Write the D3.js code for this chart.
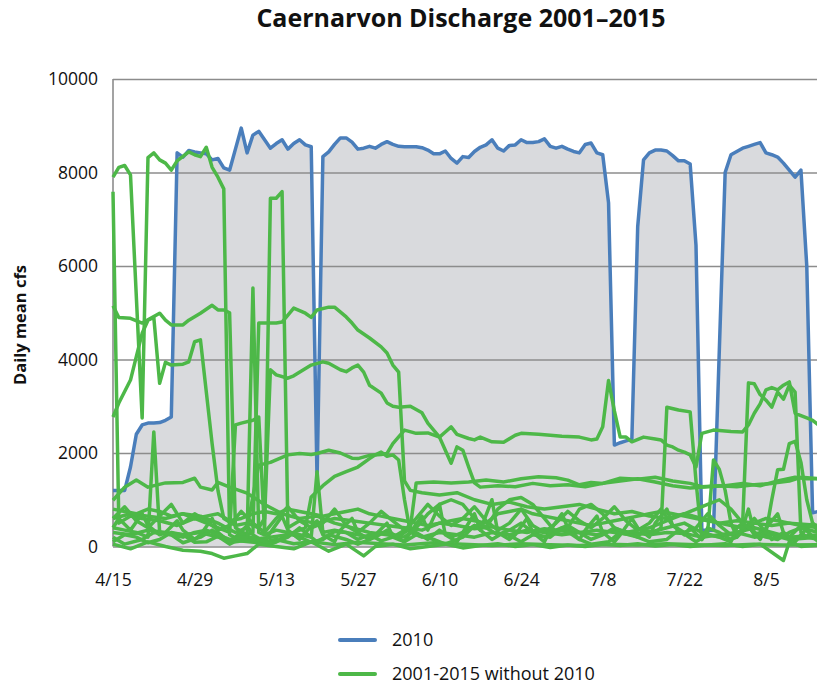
<!DOCTYPE html>
<html>
<head>
<meta charset="utf-8">
<script src="https://cdn.jsdelivr.net/npm/d3@7"></script>
<style>
  body { margin: 0; background: #fff; }
  text { font-family: "Open Sans", "Noto Sans", sans-serif; fill: #111; }
</style>
</head>
<body>
<div id="chart"></div>
<script>
// tick labels on the date axis (every 14 days from 4/15)
var xTickDays = [0, 14, 28, 42, 56, 70, 84, 98, 112];
var xTickLabels = ["4/15", "4/29", "5/13", "5/27", "6/10", "6/24", "7/8", "7/22", "8/5"];
var yTicks = [0, 2000, 4000, 6000, 8000, 10000];

// 2010 daily mean discharge (cfs), one value per day from 4/15
var flow2010 = [1200, 1200, 1200, 1700, 2400, 2600, 2640, 2640, 2650, 2700,
  2770, 8420, 8330, 8470, 8440, 8420, 8400, 8270, 8300, 8100,
  8050, 8500, 8950, 8420, 8800, 8880, 8700, 8520, 8620, 8700,
  8500, 8620, 8700, 8590, 8550, 1420, 8340, 8440, 8600, 8740,
  8740, 8650, 8500, 8520, 8560, 8520, 8600, 8660, 8600, 8560,
  8550, 8550, 8550, 8530, 8480, 8400, 8400, 8460, 8300, 8200,
  8340, 8320, 8450, 8540, 8590, 8700, 8520, 8460, 8580, 8590,
  8700, 8640, 8640, 8660, 8720, 8560, 8520, 8560, 8500, 8450,
  8420, 8600, 8630, 8420, 8380, 7350, 2170, 2220, 2260, 2300,
  6840, 8270, 8420, 8480, 8480, 8460, 8360, 8250, 8250, 8180,
  6440, 350, 350, 350, 4200, 8000, 8380, 8450, 8520, 8560,
  8600, 8640, 8420, 8380, 8330, 8200, 8050, 7900, 8050, 6000,
  720, 750];

// other years, read as [day since 4/15, cfs]
var g1 = [[0,7900],[1,8110],[2,8150],[3,7950],[5,2750],[6,8320],[7,8420],[8,8270],[9,8200],[10,8050],[11,8250],[13,8440],[14,8380],[15,8340],[16,8540],[17,8110],[18,7900],[19,7650],[20,250],[22,120],[25,80],[28,150],[31,60],[34,100],[38,40],[42,90],[46,60],[50,30],[55,80],[60,50],[65,20],[70,60],[75,40],[80,20],[85,50],[90,30],[95,60],[100,40],[105,20],[110,50],[115,30],[121,40]];
var g2 = [[0,7590],[1,500],[3,650],[5,600],[8,550],[11,450],[14,600],[17,450],[20,300],[21,2600],[22,2640],[24,2700],[25,2770],[26,300],[27,7450],[28,7450],[29,7590],[30,400],[32,550],[35,500],[38,600],[41,550],[44,500],[47,450],[50,400],[53,350],[56,500],[59,450],[62,380],[65,420],[68,350],[71,300],[74,380],[77,330],[80,300],[83,250],[86,350],[89,300],[92,250],[95,300],[98,280],[101,200],[104,250],[107,300],[110,200],[113,250],[116,150],[121,200]];
var g3 = [[0,5150],[1,4900],[3,4880],[5,4780],[6,4850],[8,4990],[9,4840],[10,4740],[12,4740],[13,4840],[15,4990],[17,5160],[18,5060],[19,5060],[20,5000],[21,400],[23,250],[24,300],[25,4780],[28,4780],[29,4800],[31,5100],[33,4990],[34,4900],[35,5060],[37,5120],[38,5120],[40,4910],[41,4780],[42,4630],[44,4460],[46,4270],[47,4140],[48,3880],[49,3730],[50,1400],[51,1200],[53,1150],[56,1100],[59,1150],[62,1000],[65,900],[68,950],[71,850],[74,800],[77,850],[80,900],[83,800],[86,700],[89,750],[92,650],[95,600],[98,700],[101,600],[104,500],[107,550],[110,500],[113,450],[116,500],[121,450]];
var g4 = [[0,2770],[1,3070],[3,3560],[4,4060],[5,4560],[6,4840],[7,4900],[8,3490],[9,3940],[10,3880],[12,3900],[13,3950],[14,4380],[15,4420],[17,2200],[18,1200],[19,600],[21,450],[23,500],[25,400],[26,600],[27,3780],[28,3670],[30,3600],[31,3650],[34,3880],[36,3950],[37,3920],[39,3780],[40,3740],[41,3820],[42,3880],[43,3730],[44,3450],[46,3280],[47,3070],[48,3000],[49,2980],[51,3000],[53,2860],[54,2640],[56,2340],[57,2060],[58,1780],[59,2130],[60,2060],[61,1700],[62,1360],[63,1270],[66,1300],[69,1280],[72,1350],[75,1300],[78,1320],[81,1280],[84,1350],[87,1400],[90,1450],[93,1380],[96,1300],[99,1250],[102,1280],[105,1300],[108,1350],[111,1300],[114,1400],[117,1480],[119,1450],[121,1450]];
var g5 = [[0,600],[3,700],[6,650],[9,600],[12,700],[15,650],[18,500],[21,300],[23,400],[25,1740],[27,1800],[30,1960],[32,1990],[34,1970],[35,1990],[37,2060],[39,2000],[41,1890],[42,1880],[44,1950],[46,1970],[47,1990],[48,2200],[50,2490],[52,2420],[54,2430],[56,2340],[57,2450],[58,2560],[59,2400],[61,2310],[62,2280],[63,2340],[65,2240],[67,2230],[69,2380],[70,2420],[73,2400],[77,2360],[80,2340],[82,2280],[83,2300],[84,2560],[85,3550],[86,2900],[87,2340],[88,2340],[89,2240],[91,2340],[93,2300],[94,2280],[95,2170],[96,2130],[97,2060],[98,2020],[99,1960],[100,1700],[101,2420],[103,2490],[106,2460],[108,2450],[109,2600],[110,2850],[111,3050],[112,3350],[113,3400],[114,3350],[115,3450],[116,3520],[117,2850],[118,2800],[119,2750],[120,2700],[121,2600]];
var g6 = [[0,300],[3,250],[6,350],[9,300],[12,250],[15,300],[18,200],[21,100],[24,150],[27,200],[30,250],[33,400],[34,1060],[36,1300],[38,1500],[40,1600],[42,1700],[44,1880],[45,1960],[46,2020],[47,1930],[48,1960],[49,1850],[50,1000],[51,300],[53,200],[56,300],[59,250],[62,200],[65,300],[68,250],[71,350],[74,300],[77,250],[80,300],[83,350],[86,300],[89,250],[92,300],[95,400],[98,500],[101,300],[104,200],[107,300],[110,400],[113,300],[116,200],[121,250]];
var g7 = [[0,990],[2,1270],[4,1420],[6,1270],[9,1360],[12,1370],[14,1460],[15,1270],[17,1210],[18,1370],[20,1270],[23,1140],[26,900],[29,700],[32,600],[35,650],[38,500],[41,400],[44,300],[47,250],[49,200],[51,400],[52,1360],[55,1380],[58,1360],[61,1380],[64,1420],[67,1380],[70,1450],[73,1490],[76,1470],[78,1420],[80,1320],[82,1370],[84,1350],[87,1460],[90,1440],[93,1480],[96,1400],[99,1350],[101,1280],[104,1300],[107,1280],[110,1320],[113,1350],[116,1400],[118,1480],[121,1450]];
var g8 = [[0,100],[2,250],[4,200],[6,80],[8,150],[10,300],[12,250],[14,90],[16,100],[18,220],[20,50],[22,180],[24,150],[26,60],[28,100],[30,280],[32,200],[34,90],[36,150],[38,320],[40,300],[42,150],[44,250],[46,120],[48,200],[50,350],[52,300],[54,150],[56,350],[58,200],[60,300],[62,450],[64,400],[66,250],[68,350],[70,500],[72,300],[74,200],[76,350],[78,450],[80,300],[82,150],[84,250],[86,400],[88,300],[90,200],[91,350],[93,300],[94,400],[95,2980],[97,2920],[99,2880],[100,1400],[101,150],[102,400],[104,300],[106,150],[107,200],[109,450],[110,250],[112,350],[113,150],[115,300],[116,200],[118,450],[121,100]];
var g9 = [[0,400],[1,600],[3,350],[5,700],[6,450],[8,250],[9,300],[11,550],[12,350],[14,150],[15,250],[17,600],[18,300],[20,100],[21,200],[23,450],[24,250],[26,100],[27,300],[29,650],[30,350],[32,150],[33,300],[35,550],[36,250],[38,100],[39,350],[41,600],[42,300],[44,150],[45,250],[47,500],[48,200],[50,100],[51,300],[53,650],[54,350],[56,900],[57,250],[59,100],[60,300],[62,700],[63,350],[65,1000],[66,300],[68,150],[69,250],[71,600],[72,300],[74,100],[75,350],[77,700],[78,400],[80,150],[81,350],[83,650],[84,300],[86,100],[87,250],[89,600],[90,400],[92,200],[93,500],[95,800],[96,450],[98,250],[99,400],[101,150],[102,300],[103,1850],[104,1650],[105,1200],[106,500],[107,200],[108,400],[109,800],[110,300],[111,150],[112,400],[114,700],[115,300],[117,100],[118,250],[120,500],[121,300]];
var g10 = [[0,200],[2,50],[5,150],[7,300],[10,250],[12,80],[15,200],[17,350],[20,100],[22,250],[25,150],[27,50],[30,200],[32,400],[35,100],[37,250],[40,150],[42,50],[45,200],[47,350],[50,100],[52,250],[55,150],[57,50],[60,200],[62,450],[65,150],[67,300],[70,100],[72,250],[75,200],[77,400],[80,150],[82,50],[85,100],[87,300],[90,200],[92,100],[95,150],[97,350],[100,100],[102,250],[104,200],[106,100],[107,400],[108,500],[109,3500],[110,3480],[111,3250],[112,3130],[113,2980],[114,3300],[115,3150],[116,3450],[117,3300],[118,300],[119,200],[121,150]];
var g11 = [[0,600],[2,850],[4,550],[6,400],[8,650],[10,900],[12,500],[14,700],[16,550],[18,350],[20,450],[22,750],[24,500],[26,300],[28,600],[30,850],[32,550],[34,400],[36,500],[38,800],[40,450],[42,300],[44,500],[46,750],[48,550],[50,350],[52,600],[54,900],[56,650],[58,450],[60,600],[62,850],[64,550],[66,350],[68,500],[70,800],[72,450],[74,300],[76,500],[78,750],[80,550],[82,400],[84,600],[86,850],[88,550],[90,350],[92,500],[94,800],[96,450],[98,300],[100,400],[102,700],[104,450],[106,250],[108,350],[110,600],[112,300],[113,1000],[114,1640],[115,1650],[116,2200],[117,2250],[118,1800],[119,1000],[120,500],[121,400]];
var g12 = [[0,50],[3,-50],[6,100],[9,0],[12,-80],[15,-100],[17,-150],[19,-250],[21,-200],[23,-150],[25,50],[28,0],[31,-50],[34,100],[37,-100],[40,50],[43,-200],[45,0],[48,50],[51,-50],[54,0],[57,50],[60,-30],[63,20],[66,60],[69,0],[72,40],[75,-20],[78,30],[81,0],[84,50],[87,20],[90,60],[93,10],[96,40],[99,0],[102,30],[105,60],[108,0],[111,50],[115,-300],[116,100],[118,0],[121,30]];
var g13 = [[0,800],[2,750],[4,700],[6,800],[8,750],[10,650],[12,700],[14,600],[16,650],[18,700],[20,550],[22,600],[24,700],[26,750],[28,700],[30,800],[32,750],[34,700],[36,650],[38,700],[40,750],[42,800],[44,700],[46,650],[48,600],[50,550],[52,500],[54,450],[56,500],[58,550],[60,600],[62,550],[64,500],[66,700],[68,750],[70,800],[72,700],[74,650],[76,600],[78,550],[80,500],[82,450],[84,500],[86,550],[88,600],[90,650],[92,700],[94,750],[96,700],[98,650],[100,600],[102,550],[104,500],[106,450],[108,400],[110,500],[112,600],[114,550],[116,500],[118,450],[121,400]];
var g14 = [[0,400],[2,350],[4,300],[6,200],[7,2450],[8,300],[10,250],[12,200],[14,300],[16,350],[18,250],[20,150],[22,200],[23,200],[24,5530],[25,300],[26,250],[28,350],[30,300],[32,250],[34,200],[35,1600],[36,300],[38,350],[40,300],[42,250],[44,200],[46,300],[48,250],[50,200],[52,400],[54,700],[56,900],[58,1000],[60,900],[62,600],[64,400],[66,800],[68,1000],[70,1050],[72,900],[74,600],[76,300],[78,400],[80,800],[82,900],[84,700],[86,400],[88,300],[90,350],[92,400],[94,500],[96,600],[98,700],[100,800],[102,900],[104,1000],[106,800],[108,500],[110,300],[112,200],[114,150],[116,300],[118,400],[121,300]];

var otherYears = [g1, g2, g3, g4, g5, g6, g7, g8, g9, g10, g11, g12, g13, g14];

var width = 817, height = 686;
var margin = { top: 79, left: 113, bottom: 139.5 };
var plotBottom = height - margin.bottom;

var svg = d3.select("#chart")
    .append("svg")
    .attr("width", width)
    .attr("height", height);

var x = d3.scaleLinear().domain([0, 121]).range([margin.left, margin.left + 121 * 5.83]);
var y = d3.scaleLinear().domain([0, 10000]).range([plotBottom, margin.top]);

// Title
svg.append("text")
    .attr("x", 461).attr("y", 27)
    .attr("text-anchor", "middle")
    .style("font-size", "25px").style("font-weight", "bold")
    .text("Caernarvon Discharge 2001\u20132015");

// shaded area under 2010
var area = d3.area()
    .x(function (d, i) { return x(i); })
    .y0(y(0))
    .y1(function (d) { return y(d); });

svg.append("path")
    .datum(flow2010)
    .attr("fill", "#d9dadd")
    .attr("d", area);

// gridlines + y labels
var yAxis = svg.append("g")
    .attr("transform", "translate(" + margin.left + ",0)")
    .call(d3.axisLeft(y).tickValues(yTicks).tickSize(-(width - margin.left)).tickPadding(15)
        .tickFormat(d3.format("d")));
yAxis.select(".domain").remove();
yAxis.selectAll(".tick line").attr("stroke", "#8c8c8c").attr("stroke-width", 1.6);
yAxis.selectAll(".tick text").style("font-size", "17.5px").style("font-family", "Open Sans").attr("fill", "#111");

svg.append("line")
    .attr("x1", margin.left).attr("x2", margin.left)
    .attr("y1", y(10000)).attr("y2", y(0))
    .attr("stroke", "#8c8c8c").attr("stroke-width", 1.6);

// x labels
var xAxis = svg.append("g")
    .attr("transform", "translate(0," + plotBottom + ")")
    .call(d3.axisBottom(x).tickValues(xTickDays).tickSize(0).tickPadding(27)
        .tickFormat(function (d, i) { return xTickLabels[i]; }));
xAxis.select(".domain").remove();
xAxis.selectAll(".tick text").style("font-size", "17.5px").style("font-family", "Open Sans").attr("fill", "#111");

// y title
svg.append("text")
    .attr("transform", "translate(26,325) rotate(-90)")
    .attr("text-anchor", "middle")
    .style("font-size", "16.5px").style("font-weight", "bold")
    .text("Daily mean cfs");

var line2010 = d3.line()
    .x(function (d, i) { return x(i); })
    .y(function (d) { return y(d); });

var lineOther = d3.line()
    .x(function (d) { return x(d[0]); })
    .y(function (d) { return y(d[1]); });

svg.append("path")
    .datum(flow2010)
    .attr("fill", "none")
    .attr("stroke", "#4a7ebb")
    .attr("stroke-width", 3.5)
    .attr("stroke-linejoin", "round")
    .attr("d", line2010);

svg.selectAll(".other")
    .data(otherYears)
    .enter().append("path")
    .attr("class", "other")
    .attr("fill", "none")
    .attr("stroke", "#4db848")
    .attr("stroke-width", 3.5)
    .attr("stroke-linejoin", "round")
    .attr("d", lineOther);

// legend
var legend = [{ label: "2010", color: "#4a7ebb" }, { label: "2001-2015 without 2010", color: "#4db848" }];
var lg = svg.selectAll(".legend")
    .data(legend)
    .enter().append("g")
    .attr("transform", function (d, i) { return "translate(340," + (640 + i * 34) + ")"; });
lg.append("line")
    .attr("x1", 0).attr("x2", 35)
    .attr("stroke", function (d) { return d.color; })
    .attr("stroke-width", 4)
    .attr("stroke-linecap", "round");
lg.append("text")
    .attr("x", 52).attr("y", 6)
    .style("font-size", "18px")
    .text(function (d) { return d.label; });
</script>
</body>
</html>
